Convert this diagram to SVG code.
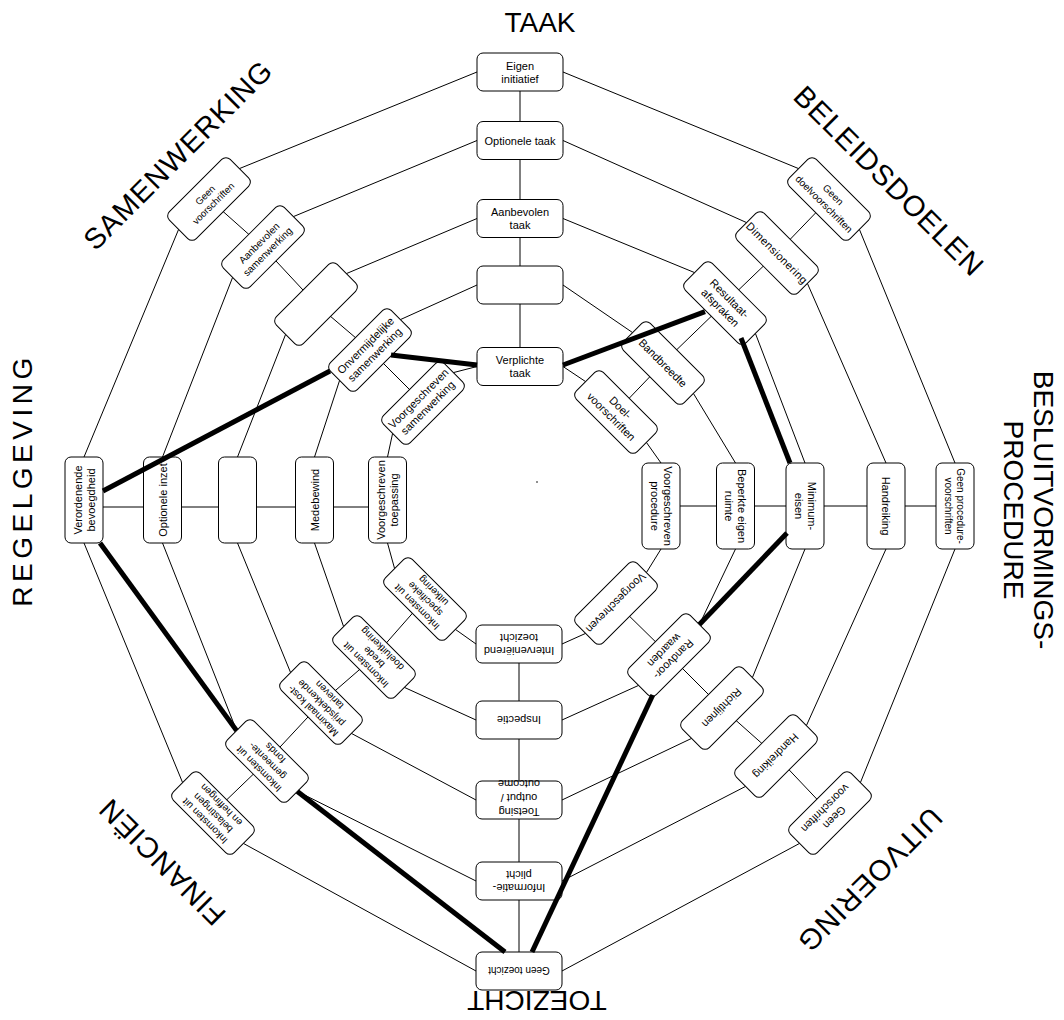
<svg xmlns="http://www.w3.org/2000/svg" width="1064" height="1020" viewBox="0 0 1064 1020">
<style>
.bg{fill:#fff}
.ln{fill:none;stroke:#000;stroke-width:1}
.hv{fill:none;stroke:#000;stroke-width:5;stroke-linecap:butt;stroke-linejoin:round}
.box{fill:#fff;stroke:#000;stroke-width:1}
.t{font-family:"Liberation Sans",Arial,sans-serif;font-size:11px;text-anchor:middle;fill:#000}
.s10{font-size:10px}
.s9{font-size:9.5px}
.lab{font-family:"Liberation Sans",Arial,sans-serif;font-size:28px;text-anchor:middle;fill:#000}
.dg{font-size:29px;letter-spacing:1px}
</style>
<defs>
<rect id="bx" class="box" x="-43" y="-19" width="86" height="38" rx="6"/>
</defs>
<rect class="bg" x="0" y="0" width="1064" height="1020"/>
<g id="connectors">
<g id="spokes" class="ln">
<polyline points="520,72 520,140.5 520,218.5 520,285 520,366.5"/>
<polyline points="829,199 777,253 725,303 663,363 616,412"/>
<polyline points="955,506 886,506 805,506 735.5,506 661,506"/>
<polyline points="830,813 776,756 722,708 669,655 616,603"/>
<polyline points="519,971 519,881 519,800 519,720 519,644"/>
<polyline points="213,813 267,761 321,703 374,657 425,599"/>
<polyline points="84,507 162.5,507 237.5,507 314.5,507 387.5,507"/>
<polyline points="209,199 263,247 316,304 370,350 423,403"/>
</g>
<path id="ring1" class="ln" d="M477,72L239.4,168.6M798.6,168.6L563,72M955,463L859.4,229.4M860.4,782.6L955,549M562,971L799.6,843.4M243.4,843.4L476,971M84,543L182.6,782.6M178.6,229.4L84,457"/>
<path id="ring2" class="ln" d="M477,140.5L293.4,216.6M746.6,222.6L563,140.5M886,463L807.4,283.4M806.4,725.6L886,549M562,881L745.6,786.4M297.4,791.4L476,881M162.5,543L236.6,730.6M232.6,277.4L162.5,457"/>
<path id="ring3" class="ln" d="M477,218.5L346.4,273.6M694.6,272.6L563,218.5M805,463L755.4,333.4M752.4,677.6L805,549M562,800L691.6,738.4M351.4,733.4L476,800M237.5,543L290.6,672.6M285.6,334.4L237.5,457"/>
<path id="ring4" class="ln" d="M477,285L400.4,319.6M632.6,332.6L563,285M735.5,463L693.4,393.4M699.4,624.6L735.5,549M562,720L638.6,685.4M404.4,687.4L476,720M314.5,543L343.6,626.6M339.6,380.4L314.5,457"/>
<path id="ring5" class="ln" d="M477,366.5L453.4,372.6M585.6,381.6L563,366.5M661,463L646.4,442.4M646.4,572.6L661,549M562,644L585.6,633.4M455.4,629.4L476,644M387.5,543L394.6,568.6M392.6,433.4L387.5,457"/>
</g>
<g id="nodes">
<g id="taak-1" transform="translate(520,72)"><use href="#bx"/><text class="t"><tspan x="0" y="-2.5">Eigen</tspan><tspan x="0" y="10.5">initiatief</tspan></text></g>
<g id="taak-2" transform="translate(520,140.5)"><use href="#bx"/><text class="t" y="4">Optionele taak</text></g>
<g id="taak-3" transform="translate(520,218.5)"><use href="#bx"/><text class="t"><tspan x="0" y="-2.5">Aanbevolen</tspan><tspan x="0" y="10.5">taak</tspan></text></g>
<g id="taak-4" transform="translate(520,285)"><use href="#bx"/></g>
<g id="taak-5" transform="translate(520,366.5)"><use href="#bx"/><text class="t"><tspan x="0" y="-2.5">Verplichte</tspan><tspan x="0" y="10.5">taak</tspan></text></g>

<g id="beleid-1" transform="translate(829,199) rotate(45)"><use href="#bx"/><text class="t s10"><tspan x="0" y="-2.5">Geen</tspan><tspan x="0" y="10.5">doelvoorschriften</tspan></text></g>
<g id="beleid-2" transform="translate(777,253) rotate(45)"><use href="#bx"/><text class="t" y="4" letter-spacing="0.4">Dimensionering</text></g>
<g id="beleid-3" transform="translate(725,303) rotate(45)"><use href="#bx"/><text class="t"><tspan x="0" y="-2.5">Resultaat-</tspan><tspan x="0" y="10.5">afspraken</tspan></text></g>
<g id="beleid-4" transform="translate(663,363) rotate(45)"><use href="#bx"/><text class="t" y="4">Bandbreedte</text></g>
<g id="beleid-5" transform="translate(616,412) rotate(45)"><use href="#bx"/><text class="t"><tspan x="0" y="-2.5">Doel-</tspan><tspan x="0" y="10.5">voorschriften</tspan></text></g>

<g id="proc-1" transform="translate(955,506) rotate(90)"><use href="#bx"/><text class="t s10"><tspan x="0" y="-2">Geen procedure-</tspan><tspan x="0" y="10">voorschriften</tspan></text></g>
<g id="proc-2" transform="translate(886,506) rotate(90)"><use href="#bx"/><text class="t" y="4">Handreiking</text></g>
<g id="proc-3" transform="translate(805,506) rotate(90)"><use href="#bx"/><text class="t"><tspan x="0" y="-2.5">Minimum-</tspan><tspan x="0" y="10.5">eisen</tspan></text></g>
<g id="proc-4" transform="translate(735.5,506) rotate(90)"><use href="#bx"/><text class="t"><tspan x="0" y="-2.5">Beperkte eigen</tspan><tspan x="0" y="10.5">ruimte</tspan></text></g>
<g id="proc-5" transform="translate(661,506) rotate(90)"><use href="#bx"/><text class="t"><tspan x="0" y="-2.5">Voorgeschreven</tspan><tspan x="0" y="10.5">procedure</tspan></text></g>

<g id="uitv-1" transform="translate(830,813) rotate(135)"><use href="#bx"/><text class="t"><tspan x="0" y="-2.5">Geen</tspan><tspan x="0" y="10.5">voorschriften</tspan></text></g>
<g id="uitv-2" transform="translate(776,756) rotate(135)"><use href="#bx"/><text class="t" y="4">Handreiking</text></g>
<g id="uitv-3" transform="translate(722,708) rotate(135)"><use href="#bx"/><text class="t" y="4">Richtlijnen</text></g>
<g id="uitv-4" transform="translate(669,655) rotate(135)"><use href="#bx"/><text class="t"><tspan x="0" y="-2.5">Randvoor-</tspan><tspan x="0" y="10.5">waarden</tspan></text></g>
<g id="uitv-5" transform="translate(616,603) rotate(135)"><use href="#bx"/><text class="t" y="4">Voorgeschreven</text></g>

<g id="toez-1" transform="translate(519,971) rotate(180)"><use href="#bx"/><text class="t s10" y="4">Geen toezicht</text></g>
<g id="toez-2" transform="translate(519,881) rotate(180)"><use href="#bx"/><text class="t"><tspan x="0" y="-2.5">Informatie-</tspan><tspan x="0" y="10.5">plicht</tspan></text></g>
<g id="toez-3" transform="translate(519,800) rotate(180)"><use href="#bx"/><text class="t"><tspan x="0" y="-8">Toetsing</tspan><tspan x="0" y="6">output /</tspan><tspan x="0" y="20">outcome</tspan></text></g>
<g id="toez-4" transform="translate(519,720) rotate(180)"><use href="#bx"/><text class="t" y="4">Inspectie</text></g>
<g id="toez-5" transform="translate(519,644) rotate(180)"><use href="#bx"/><text class="t"><tspan x="0" y="-2.5">Interveniërend</tspan><tspan x="0" y="10.5">toezicht</tspan></text></g>

<g id="fin-1" transform="translate(213,813) rotate(225)"><use href="#bx"/><text class="t s10"><tspan x="0" y="-8">Inkomsten uit</tspan><tspan x="0" y="3.5">belastingen</tspan><tspan x="0" y="15">en heffingen</tspan></text></g>
<g id="fin-2" transform="translate(267,761) rotate(225)"><use href="#bx"/><text class="t s10"><tspan x="0" y="-8">Inkomsten uit</tspan><tspan x="0" y="3.5">gemeente-</tspan><tspan x="0" y="15">fonds</tspan></text></g>
<g id="fin-3" transform="translate(321,703) rotate(225)"><use href="#bx"/><text class="t s10"><tspan x="0" y="-8">Maximaal kost-</tspan><tspan x="0" y="3.5">prijsdekkende</tspan><tspan x="0" y="15">tarieven</tspan></text></g>
<g id="fin-4" transform="translate(374,657) rotate(225)"><use href="#bx"/><text class="t s10"><tspan x="0" y="-8">Inkomsten uit</tspan><tspan x="0" y="3.5">brede</tspan><tspan x="0" y="15">doeluitkering</tspan></text></g>
<g id="fin-5" transform="translate(425,599) rotate(225)"><use href="#bx"/><text class="t s10"><tspan x="0" y="-8">Inkomsten uit</tspan><tspan x="0" y="3.5">specifieke</tspan><tspan x="0" y="15">uitkering</tspan></text></g>

<g id="regel-1" transform="translate(84,500) rotate(-90)"><use href="#bx"/><text class="t"><tspan x="0" y="-2.5">Verordenende</tspan><tspan x="0" y="10.5">bevoegdheid</tspan></text></g>
<g id="regel-2" transform="translate(162.5,500) rotate(-90)"><use href="#bx"/><text class="t" y="4">Optionele inzet</text></g>
<g id="regel-3" transform="translate(237.5,500) rotate(-90)"><use href="#bx"/></g>
<g id="regel-4" transform="translate(314.5,500) rotate(-90)"><use href="#bx"/><text class="t" y="4">Medebewind</text></g>
<g id="regel-5" transform="translate(387.5,500) rotate(-90)"><use href="#bx"/><text class="t"><tspan x="0" y="-2.5">Voorgeschreven</tspan><tspan x="0" y="10.5">toepassing</tspan></text></g>

<g id="samen-1" transform="translate(209,199) rotate(-45)"><use href="#bx"/><text class="t s9"><tspan x="0" y="-2">Geen</tspan><tspan x="0" y="9.5">voorschriften</tspan></text></g>
<g id="samen-2" transform="translate(263,247) rotate(-45)"><use href="#bx"/><text class="t s10"><tspan x="0" y="-2">Aanbevolen</tspan><tspan x="0" y="10">samenwerking</tspan></text></g>
<g id="samen-3" transform="translate(316,304) rotate(-45)"><use href="#bx"/></g>
<g id="samen-4" transform="translate(370,350) rotate(-45)"><use href="#bx"/><text class="t"><tspan x="0" y="-2.5">Onvermijdelijke</tspan><tspan x="0" y="10.5">samenwerking</tspan></text></g>
<g id="samen-5" transform="translate(423,403) rotate(-45)"><use href="#bx"/><text class="t"><tspan x="0" y="-2.5">Voorgeschreven</tspan><tspan x="0" y="10.5">samenwerking</tspan></text></g>
</g>
<g id="profile" class="hv">
<line x1="103" y1="491" x2="330" y2="371"/>
<line x1="391" y1="355" x2="477" y2="365"/>
<line x1="563" y1="365" x2="705" y2="311.7"/>
<line x1="741" y1="338" x2="790" y2="463"/>
<line x1="787" y1="533" x2="699.4" y2="624.6"/>
<line x1="652.8" y1="695" x2="532" y2="952"/>
<line x1="505" y1="952" x2="297.4" y2="791.4"/>
<line x1="236.6" y1="730.6" x2="100" y2="543"/>
</g>
<circle id="centre-dot" cx="537" cy="482" r="0.8" fill="#000"/>
<g id="axis-labels">
<text class="lab" x="540" y="32">TAAK</text>
<text class="lab dg" transform="translate(889,181) rotate(45)" y="10">BELEIDSDOELEN</text>
<text class="lab" transform="translate(1028,510) rotate(90)"><tspan x="0" y="-6">BESLUITVORMINGS-</tspan><tspan x="0" y="24">PROCEDURE</tspan></text>
<text class="lab dg" transform="translate(870,880) rotate(135)" y="10">UITVOERING</text>
<text class="lab" transform="translate(537,1001) rotate(180)" y="10">TOEZICHT</text>
<text class="lab dg" transform="translate(162,862) rotate(225)" y="10">FINANCIËN</text>
<text class="lab" transform="translate(22,480) rotate(-90)" y="10" letter-spacing="4.5">REGELGEVING</text>
<text class="lab dg" transform="translate(178,155) rotate(-45)" y="10">SAMENWERKING</text>
</g>
</svg>
